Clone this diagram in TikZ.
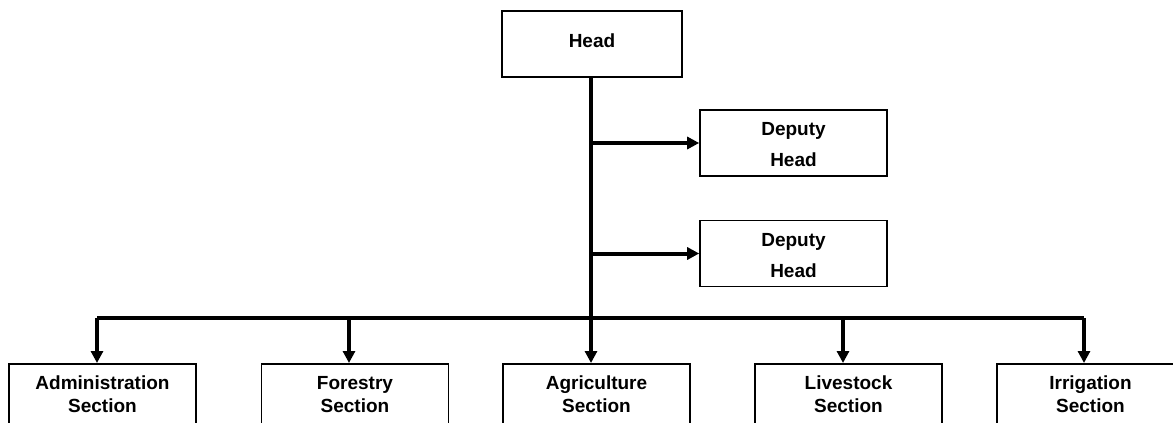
\documentclass[tikz,border=0pt]{standalone}
\usepackage{fontspec}
\setmainfont{Liberation Sans}
\usetikzlibrary{arrows.meta}
\tikzset{
  box/.style={draw=black, line width=1.6pt, fill=white, inner sep=0pt, align=center,
    font=\fontsize{19}{23}\selectfont\bfseries},
  headbox/.style={box, line width=2pt, minimum width=180pt, minimum height=66pt, text depth=6pt},
  depbox/.style={box, minimum width=187pt, minimum height=66pt, text height=48pt,
    font=\fontsize{19}{31}\selectfont\bfseries},
  secbox/.style={box, text width=187pt, inner xsep=0pt, inner ysep=12.4pt, text depth=60pt, anchor=north},
  conn/.style={line width=4pt, draw=black},
  arr/.style={conn, -{Triangle[length=12pt,width=12pt]}},
}
\begin{document}
\begin{tikzpicture}[x=1pt,y=-1pt]
\useasboundingbox (0,0) rectangle (1173,423);
\clip (0,0) rectangle (1173,423);
\fill[white] (0,0) rectangle (1173,423);
% nodes
\node[headbox] (head) at (592,44) {Head};
\node[depbox] (dep1) at (793.5,143) {Deputy\\Head};
\node[depbox] (dep2) at (793.5,253.5) {Deputy\\Head};
\node[secbox] (admin) at (102.5,363) {Administration\\Section};
\node[secbox] (forest) at (355,363) {Forestry\\Section};
\node[secbox] (agri) at (596.5,363) {Agriculture\\Section};
\node[secbox] (live) at (848.5,363) {Livestock\\Section};
\node[secbox] (irr) at (1090.5,363) {Irrigation\\Section};
% junctions
\coordinate (t) at (591,318);
\coordinate (bl) at (97,318);
\coordinate (bf) at (349,318);
\coordinate (bv) at (843,318);
\coordinate (br) at (1084,318);
% connectors
\draw[conn, line cap=square] (bl) -- (br);
\draw[arr] (t |- head.south) -- (t |- agri.north);
\draw[arr] (t |- dep1.west) -- (dep1.west);
\draw[arr] (t |- dep2.west) -- (dep2.west);
\draw[arr] (bl) -- (bl |- admin.north);
\draw[arr] (bf) -- (bf |- forest.north);
\draw[arr] (bv) -- (bv |- live.north);
\draw[arr] (br) -- (br |- irr.north);
\end{tikzpicture}
\end{document}
